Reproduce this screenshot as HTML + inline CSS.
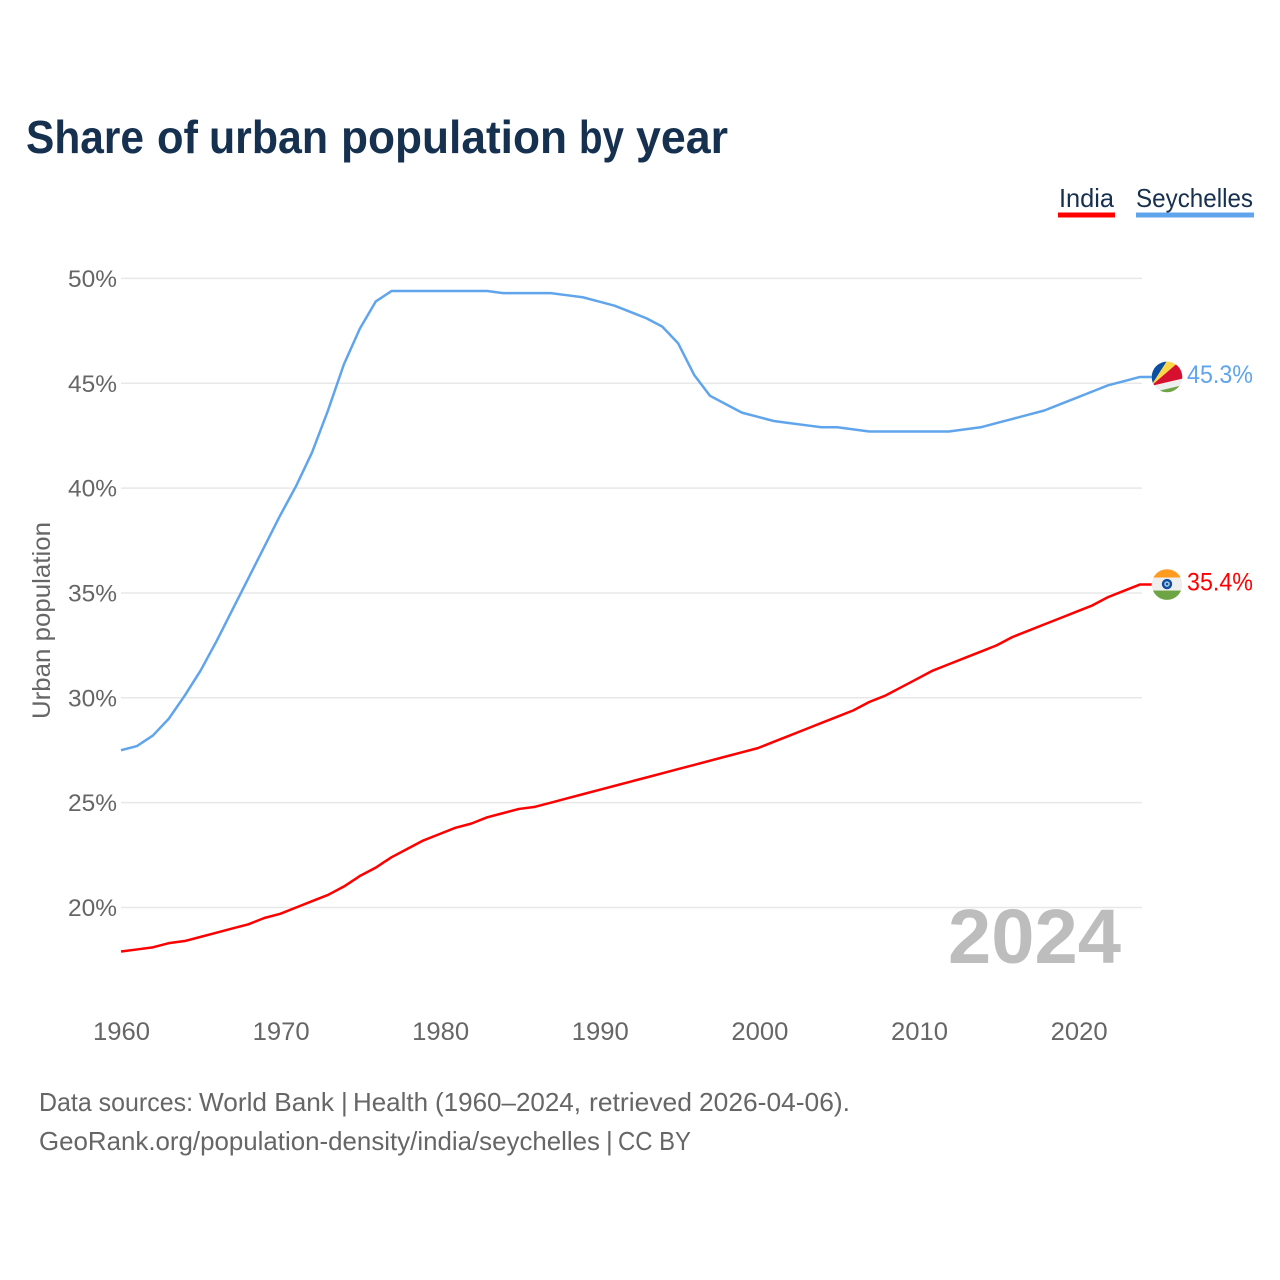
<!DOCTYPE html>
<html lang="en">
<head>
<meta charset="utf-8">
<title>Share of urban population by year</title>
<style>
html,body{margin:0;padding:0;background:#fff;}
svg{display:block;font-family:"Liberation Sans",sans-serif;}
</style>
</head>
<body>
<svg id="chart" width="1280" height="1280" viewBox="0 0 1280 1280" xmlns="http://www.w3.org/2000/svg">
  <defs>
    <clipPath id="flag-clip"><circle cx="0" cy="0" r="15.3"/></clipPath>
  </defs>
  <rect width="1280" height="1280" fill="#fff"/>
  <g font-size="46" font-weight="700" fill="#16304f">
    <text x="26" y="153" textLength="118" lengthAdjust="spacingAndGlyphs">Share</text>
    <text x="157" y="153" textLength="41" lengthAdjust="spacingAndGlyphs">of</text>
    <text x="209" y="153" textLength="119" lengthAdjust="spacingAndGlyphs">urban</text>
    <text x="341" y="153" textLength="226" lengthAdjust="spacingAndGlyphs">population</text>
    <text x="579" y="153" textLength="45" lengthAdjust="spacingAndGlyphs">by</text>
    <text x="636" y="153" textLength="92" lengthAdjust="spacingAndGlyphs">year</text>
  </g>

  <g>
    <g>
      <text x="1059" y="207" font-size="26" fill="#16304f" textLength="55" lengthAdjust="spacingAndGlyphs">India</text>
      <rect x="1058" y="212.5" width="57" height="5" fill="#ff0000"/>
    </g>
    <g>
      <text x="1136" y="207" font-size="26" fill="#16304f" textLength="117" lengthAdjust="spacingAndGlyphs">Seychelles</text>
      <rect x="1136" y="212.5" width="118" height="5" fill="#60a5ec"/>
    </g>
  </g>

  <g id="grid"></g>
  <g id="y-ticks"></g>
  <g id="x-ticks"></g>

  <text transform="translate(50,719) rotate(-90)" x="0" y="0" font-size="25" fill="#666" textLength="197" lengthAdjust="spacingAndGlyphs">Urban population</text>

  <text x="948" y="963" font-size="77" font-weight="700" fill="#bdbdbd" textLength="173" lengthAdjust="spacingAndGlyphs">2024</text>

  <polyline id="line-seychelles" fill="none" stroke="#60a5ec" stroke-width="2.5" stroke-linejoin="round"/>
  <polyline id="line-india" fill="none" stroke="#ff0000" stroke-width="2.5" stroke-linejoin="round"/>

  <g id="flag-seychelles">
    <g clip-path="url(#flag-clip)">
      <rect x="-16" y="-16" width="32" height="32" fill="#eeeeee"/>
      <polygon points="-16,9 -16,-16 0,-16" fill="#0b4ea2"/>
      <polygon points="-16,9 0,-16 13,-16" fill="#fcd647"/>
      <polygon points="-16,9 13,-16 16,-16 16,1.5" fill="#d8102f"/>
      <polygon points="-9,14 10,9.5 16,8 16,16 -9,16" fill="#6da544"/>
    </g>
  </g>
  <g id="flag-india">
    <g clip-path="url(#flag-clip)">
      <rect x="-16" y="-16" width="32" height="9" fill="#ff9b21"/>
      <rect x="-16" y="-7" width="32" height="13.5" fill="#eeeeee"/>
      <rect x="-16" y="6" width="32" height="10" fill="#6da544"/>
      <circle cx="0" cy="-0.5" r="5.2" fill="#0b4ea2"/>
      <circle cx="0" cy="-0.5" r="2.8" fill="#a9bedc"/>
      <circle cx="0" cy="-0.5" r="1.2" fill="#0b4ea2"/>
    </g>
  </g>

  <text id="value-seychelles" x="1187" font-size="25" fill="#60a5ec" textLength="66" lengthAdjust="spacingAndGlyphs"></text>
  <text id="value-india" x="1187" font-size="25" fill="#ff0000" textLength="66" lengthAdjust="spacingAndGlyphs"></text>

  <g font-size="26" fill="#666">
    <text x="39" y="1111" textLength="154" lengthAdjust="spacingAndGlyphs">Data sources:</text>
    <text x="199" y="1111" textLength="135" lengthAdjust="spacingAndGlyphs">World Bank</text>
    <text x="341" y="1111">|</text>
    <text x="353" y="1111" textLength="75" lengthAdjust="spacingAndGlyphs">Health</text>
    <text x="435" y="1111" textLength="146" lengthAdjust="spacingAndGlyphs">(1960–2024,</text>
    <text x="589" y="1111" textLength="103" lengthAdjust="spacingAndGlyphs">retrieved</text>
    <text x="699" y="1111" textLength="151" lengthAdjust="spacingAndGlyphs">2026-04-06).</text>
  </g>
  <g font-size="26" fill="#666">
    <text x="39" y="1150" textLength="561" lengthAdjust="spacingAndGlyphs">GeoRank.org/population-density/india/seychelles</text>
    <text x="606" y="1150">|</text>
    <text x="618" y="1150" textLength="73" lengthAdjust="spacingAndGlyphs">CC BY</text>
  </g>
</svg>
<script>
var years = [1960,1961,1962,1963,1964,1965,1966,1967,1968,1969,1970,1971,1972,1973,1974,1975,1976,1977,1978,1979,1980,1981,1982,1983,1984,1985,1986,1987,1988,1989,1990,1991,1992,1993,1994,1995,1996,1997,1998,1999,2000,2001,2002,2003,2004,2005,2006,2007,2008,2009,2010,2011,2012,2013,2014,2015,2016,2017,2018,2019,2020,2021,2022,2023,2024];
var seychellesValues = [27.5,27.7,28.2,29.0,30.1,31.3,32.7,34.2,35.7,37.2,38.7,40.1,41.7,43.7,45.9,47.6,48.9,49.4,49.4,49.4,49.4,49.4,49.4,49.4,49.3,49.3,49.3,49.3,49.2,49.1,48.9,48.7,48.4,48.1,47.7,46.9,45.4,44.4,44.0,43.6,43.4,43.2,43.1,43.0,42.9,42.9,42.8,42.7,42.7,42.7,42.7,42.7,42.7,42.8,42.9,43.1,43.3,43.5,43.7,44.0,44.3,44.6,44.9,45.1,45.3];
var indiaValues = [17.9,18.0,18.1,18.3,18.4,18.6,18.8,19.0,19.2,19.5,19.7,20.0,20.3,20.6,21.0,21.5,21.9,22.4,22.8,23.2,23.5,23.8,24.0,24.3,24.5,24.7,24.8,25.0,25.2,25.4,25.6,25.8,26.0,26.2,26.4,26.6,26.8,27.0,27.2,27.4,27.6,27.9,28.2,28.5,28.8,29.1,29.4,29.8,30.1,30.5,30.9,31.3,31.6,31.9,32.2,32.5,32.9,33.2,33.5,33.8,34.1,34.4,34.8,35.1,35.4];
var yTickValues = [20,25,30,35,40,45,50];
var xTickValues = [1960,1970,1980,1990,2000,2010,2020];

var SVGNS = 'http://www.w3.org/2000/svg';
function xScale(year){ return 121 + (year - 1960) * 15.92; }
function xLabelScale(year){ return 121.5 + (year - 1960) * 15.96; }
function yScale(pct){ return 907.5 - (pct - 20) * 20.97; }
function pointsFor(values){
  var pts = values.map(function(v,i){ return xScale(years[i]).toFixed(2) + ',' + yScale(v).toFixed(2); });
  var last = values[values.length - 1];
  pts.push((xScale(years[years.length - 1]) + 12).toFixed(2) + ',' + yScale(last).toFixed(2));
  return pts.join(' ');
}

var grid = document.getElementById('grid');
var yTicks = document.getElementById('y-ticks');
var xTicks = document.getElementById('x-ticks');

yTickValues.forEach(function(v){
  var line = document.createElementNS(SVGNS,'line');
  
  
  line.setAttribute('x1', 121);
  line.setAttribute('x2', 1142);
  line.setAttribute('y1', yScale(v));
  line.setAttribute('y2', yScale(v));
  line.setAttribute('stroke', '#e8e8e8');
  line.setAttribute('stroke-width', 1.5);
  grid.appendChild(line);

  var label = document.createElementNS(SVGNS,'text');
  
  
  label.setAttribute('x', 117);
  label.setAttribute('y', yScale(v) + 8.5);
  label.setAttribute('text-anchor', 'end');
  label.setAttribute('font-size', 24);
  label.setAttribute('fill', '#666');
  label.setAttribute('textLength', 49);
  label.setAttribute('lengthAdjust', 'spacingAndGlyphs');
  label.textContent = v + '%';
  yTicks.appendChild(label);
});

xTickValues.forEach(function(y){
  var label = document.createElementNS(SVGNS,'text');
  
  
  label.setAttribute('x', xLabelScale(y));
  label.setAttribute('y', 1040);
  label.setAttribute('text-anchor', 'middle');
  label.setAttribute('font-size', 25);
  label.setAttribute('fill', '#666');
  label.setAttribute('textLength', 57);
  label.setAttribute('lengthAdjust', 'spacingAndGlyphs');
  label.textContent = y;
  xTicks.appendChild(label);
});

document.getElementById('line-seychelles').setAttribute('points', pointsFor(seychellesValues));
document.getElementById('line-india').setAttribute('points', pointsFor(indiaValues));

var lastS = seychellesValues[seychellesValues.length - 1];
var lastI = indiaValues[indiaValues.length - 1];
document.getElementById('flag-seychelles').setAttribute('transform', 'translate(1167,' + yScale(lastS) + ')');
document.getElementById('flag-india').setAttribute('transform', 'translate(1167,' + yScale(lastI) + ')');
var vs = document.getElementById('value-seychelles');
vs.setAttribute('y', yScale(lastS) + 6);
vs.textContent = lastS.toFixed(1) + '%';
var vi = document.getElementById('value-india');
vi.setAttribute('y', yScale(lastI) + 6);
vi.textContent = lastI.toFixed(1) + '%';
</script>
</body>
</html>
